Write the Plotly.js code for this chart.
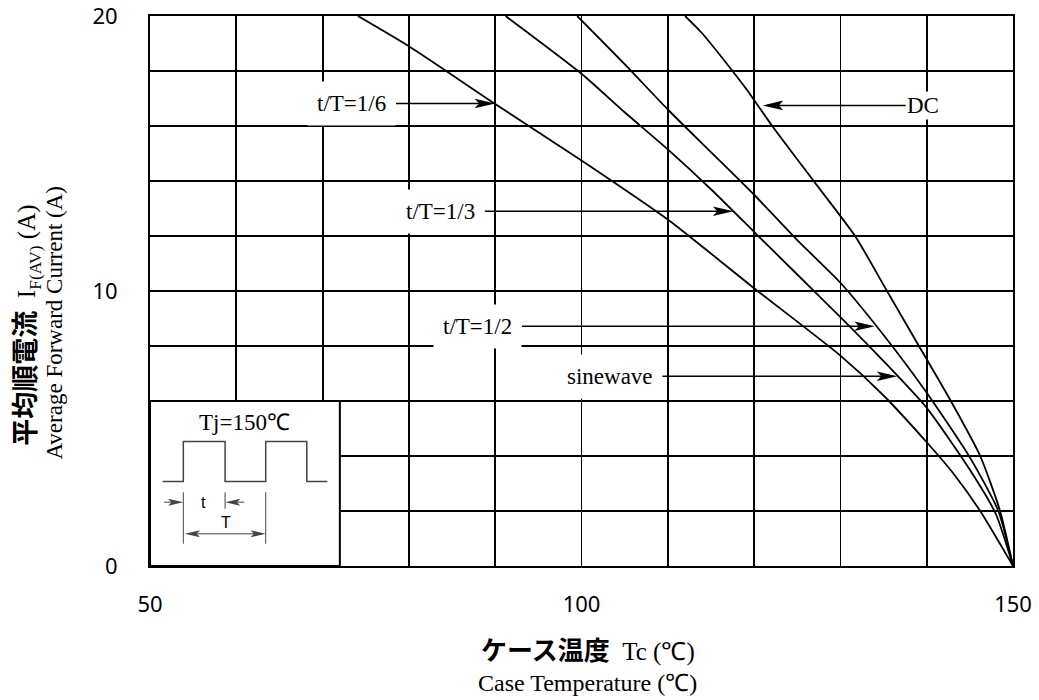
<!DOCTYPE html>
<html>
<head>
<meta charset="utf-8">
<script src="https://cdn.plot.ly/plotly-3.0.1.min.js"></script>
<style>
  html, body { margin: 0; padding: 0; background: #fff; }
  #chart { width: 1039px; height: 700px; }
</style>
</head>
<body>
<div id="chart"></div>
<script>
// Derating curves: average forward current vs. case temperature (Tj = 150 °C)
const tempDuty16 = [74.1, 80, 90, 100, 110, 120, 130, 135, 140, 143, 146.2, 150];
const currDuty16 = [20, 18.9, 16.8, 14.75, 12.6, 10.1, 7.65, 6.2, 4.5, 3.4, 2, 0];

const tempDuty13 = [91.2, 100, 105, 110, 115, 120, 125, 130, 135, 140, 145, 148, 150];
const currDuty13 = [20, 17.9, 16.5, 15.15, 13.7, 12.15, 10.6, 9.05, 7.45, 5.75, 3.5, 1.9, 0];

const tempDuty12 = [99.5, 105, 110, 115, 120, 125, 130, 135, 140, 145, 148.3, 150];
const currDuty12 = [20, 18.25, 16.6, 15.05, 13.5, 11.85, 10.3, 8.4, 6.3, 3.95, 2, 0];

const tempDC = [112, 113.9, 116.7, 119.2, 122.1, 126.9, 131.7, 135.4, 139.1, 142.8, 146.2, 148.5, 150];
const currDC = [20, 19.4, 18.32, 17.3, 16, 14, 12, 10, 8, 6, 4, 2, 0];

// Curve call-outs
const calloutText = ['t/T=1/6', 't/T=1/3', 't/T=1/2', 'sinewave', 'DC'];

const xTickVals = [50, 100, 150];
const yTickVals = [0, 10, 20];

const serif = 'Liberation Serif, Times New Roman, serif';
const sans = 'Noto Sans, Open Sans, sans-serif';
const cjk = 'Noto Sans CJK JP';

const curveLine = { color: '#000', width: 1.8, shape: 'spline', smoothing: 0.6 };
const traces = [
  { x: tempDuty16, y: currDuty16 },
  { x: tempDuty13, y: currDuty13 },
  { x: tempDuty12, y: currDuty12 },
  { x: tempDC, y: currDC }
].map(d => Object.assign({ type: 'scatter', mode: 'lines', line: curveLine, hoverinfo: 'skip' }, d));

// Call-out placement: label centre (ax, ay) and arrow tip (x, y), in axis units
const calloutPlace = [
  { ax: 73.4, ay: 16.82, x: 90.0, y: 16.82, pad: 9 },
  { ax: 83.7, ay: 12.9, x: 117.6, y: 12.9, pad: 9 },
  { ax: 88.0, ay: 8.72, x: 134.0, y: 8.72, pad: 9 },
  { ax: 103.3, ay: 6.9, x: 136.6, y: 6.9, pad: 9 },
  { ax: 139.6, ay: 16.75, x: 121.0, y: 16.75, pad: 1 }
];

const annotations = calloutText.map((t, i) => {
  const p = calloutPlace[i];
  return {
    text: t, x: p.x, y: p.y, ax: p.ax, ay: p.ay,
    xref: 'x', yref: 'y', axref: 'x', ayref: 'y',
    showarrow: true, arrowhead: 3, arrowsize: 2, arrowwidth: 1.5, arrowcolor: '#000',
    bgcolor: '#fff', borderpad: p.pad,
    font: { family: serif, size: 23, color: '#000' }
  };
});

// Inset: junction temperature note and pulse-train sketch
const inkGray = '#444';
const smallSans = { family: 'Liberation Sans, Arial, sans-serif', size: 16, color: '#000' };
annotations.push(
  { text: 'Tj=150℃', x: 61.0, y: 5.23, xref: 'x', yref: 'y', showarrow: false,
    font: { family: serif, size: 23, color: '#000' } },
  { text: 't', x: 56.2, y: 2.3, xref: 'x', yref: 'y', showarrow: false, font: smallSans },
  { text: 'T', x: 58.8, y: 1.6, xref: 'x', yref: 'y', showarrow: false, font: smallSans },
  { text: '', x: 53.86, y: 2.32, ax: 51.47, ay: 2.32, xref: 'x', yref: 'y', axref: 'x', ayref: 'y',
    showarrow: true, arrowhead: 4, arrowsize: 2.2, arrowwidth: 1, arrowcolor: inkGray },
  { text: '', x: 58.70, y: 2.32, ax: 61.1, ay: 2.32, xref: 'x', yref: 'y', axref: 'x', ayref: 'y',
    showarrow: true, arrowhead: 4, arrowsize: 2.2, arrowwidth: 1, arrowcolor: inkGray },
  { text: '', x: 63.41, y: 1.17, ax: 53.86, ay: 1.17, xref: 'x', yref: 'y', axref: 'x', ayref: 'y',
    showarrow: true, arrowside: 'end+start', arrowhead: 4, startarrowhead: 4,
    arrowsize: 2.2, startarrowsize: 2.2, arrowwidth: 1, arrowcolor: inkGray }
);

// Axis titles (two-language, mixed fonts)
const jp = (s, px) => '<span style="font-family:' + cjk + ';font-weight:bold;font-size:' + px + 'px">' + s + '</span>';
annotations.push(
  { text: jp('ケース温度', 26) + '\u00a0\u00a0Tc (℃)',
    xref: 'paper', yref: 'paper', x: 0.5075, y: -0.15, xanchor: 'center', yanchor: 'middle', showarrow: false,
    font: { family: serif, size: 25, color: '#000' } },
  { text: 'Case Temperature (℃)',
    xref: 'paper', yref: 'paper', x: 0.507, y: -0.212, xanchor: 'center', yanchor: 'middle', showarrow: false,
    font: { family: serif, size: 24, color: '#000' } },
  { text: jp('平均順電流', 27) + '\u00a0\u00a0I<sub>F(AV)</sub> (A)',
    xref: 'paper', yref: 'paper', x: -0.146, y: 0.437, xanchor: 'center', yanchor: 'middle',
    textangle: -90, showarrow: false,
    font: { family: serif, size: 25, color: '#000' } },
  { text: 'Average Forward Current (A)',
    xref: 'paper', yref: 'paper', x: -0.111, y: 0.443, xanchor: 'center', yanchor: 'middle',
    textangle: -90, showarrow: false,
    font: { family: serif, size: 23, color: '#000' } }
);

const grid = { color: '#000', width: 1.8 };
const shapes = [
  { type: 'rect', xref: 'x', yref: 'y', x0: 50, x1: 72, y0: 0, y1: 6, layer: 'above',
    fillcolor: '#fff', line: { color: '#000', width: 2 } },
  { type: 'path', xref: 'x', yref: 'y', layer: 'above', line: { color: inkGray, width: 1.5 },
    path: 'M51.47,3.07 L53.86,3.07 L53.86,4.53 L58.70,4.53 L58.70,3.07 L63.41,3.07 L63.41,4.53 L68.17,4.53 L68.17,3.07 L70.56,3.07' },
  { type: 'line', xref: 'x', yref: 'y', layer: 'above', x0: 53.86, x1: 53.86, y0: 2.68, y1: 0.81, line: { color: inkGray, width: 1 } },
  { type: 'line', xref: 'x', yref: 'y', layer: 'above', x0: 58.70, x1: 58.70, y0: 2.68, y1: 2.08, line: { color: inkGray, width: 1 } },
  { type: 'line', xref: 'x', yref: 'y', layer: 'above', x0: 63.41, x1: 63.41, y0: 2.68, y1: 0.81, line: { color: inkGray, width: 1 } }
];

const tickFont = { family: sans, size: 22, color: '#000' };
const layout = {
  width: 1039, height: 700,
  margin: { l: 150, r: 26, t: 16, b: 134 },
  paper_bgcolor: '#fff', plot_bgcolor: '#fff',
  showlegend: false,
  xaxis: {
    range: [50, 150], tickvals: xTickVals, ticktext: xTickVals.map(String),
    showgrid: true, gridcolor: grid.color, gridwidth: grid.width,
    minor: { dtick: 10, tick0: 50, showgrid: true, gridcolor: grid.color, gridwidth: grid.width },
    showline: true, linecolor: '#000', linewidth: 2, mirror: true, zeroline: false,
    ticks: '', ticklabelstandoff: 18, ticklabeloverflow: 'allow', tickfont: tickFont
  },
  yaxis: {
    range: [0, 20], tickvals: yTickVals, ticktext: yTickVals.map(String),
    showgrid: true, gridcolor: grid.color, gridwidth: grid.width,
    minor: { dtick: 2, tick0: 0, showgrid: true, gridcolor: grid.color, gridwidth: grid.width },
    showline: true, linecolor: '#000', linewidth: 2, mirror: true, zeroline: false,
    ticks: '', ticklabelstandoff: 26, ticklabeloverflow: 'allow', tickfont: tickFont
  },
  annotations: annotations,
  shapes: shapes
};

Plotly.newPlot('chart', traces, layout, { staticPlot: true }).then(() => {
  // Slimmer barbed heads for the curve call-out arrows
  const n = calloutText.length;
  document.querySelectorAll('#chart g.annotation-arrow-g').forEach(g => {
    const idx = +g.getAttribute('data-index');
    if (idx >= n) return;
    g.querySelectorAll('path').forEach(p => {
      const tr = p.getAttribute('transform') || '';
      if (tr.indexOf('scale') >= 0) p.setAttribute('d', 'M-5.3,-1.6L1.55,0L-5.3,1.6L-3.8,0Z');
    });
  });
});
</script>
</body>
</html>
